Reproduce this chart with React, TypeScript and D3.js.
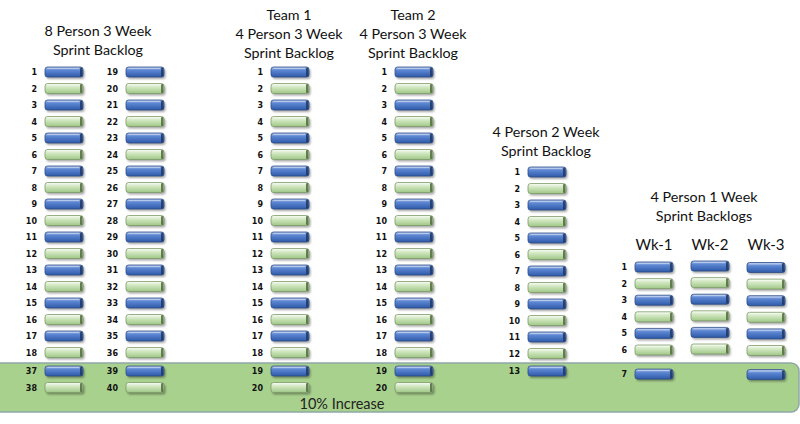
import React from "react";
import * as d3 from "d3";

// backlog items per column (numbers shown at left of each bar)
const eightA = [1, 2, 3, 4, 5, 6, 7, 8, 9, 10, 11, 12, 13, 14, 15, 16, 17, 18, 37, 38];
const eightB = [19, 20, 21, 22, 23, 24, 25, 26, 27, 28, 29, 30, 31, 32, 33, 34, 35, 36, 39, 40];
const team1 = [1, 2, 3, 4, 5, 6, 7, 8, 9, 10, 11, 12, 13, 14, 15, 16, 17, 18, 19, 20];
const team2 = [1, 2, 3, 4, 5, 6, 7, 8, 9, 10, 11, 12, 13, 14, 15, 16, 17, 18, 19, 20];
const twoWeek = [1, 2, 3, 4, 5, 6, 7, 8, 9, 10, 11, 12, 13];
const wk1 = [1, 2, 3, 4, 5, 6, 7];
const wk2 = [1, 2, 3, 4, 5, 6];
const wk3 = [1, 2, 3, 4, 5, 6, 7];

const titles = [
  { lines: ["8 Person 3 Week", "Sprint Backlog"], x: 98, y: 36 },
  { lines: ["Team 1", "4 Person 3 Week", "Sprint Backlog"], x: 289, y: 20 },
  { lines: ["Team 2", "4 Person 3 Week", "Sprint Backlog"], x: 413, y: 20 },
  { lines: ["4 Person 2 Week", "Sprint Backlog"], x: 546, y: 137 },
  { lines: ["4 Person 1 Week", "Sprint Backlogs"], x: 704, y: 202 },
];
const weekLabels = ["Wk-1", "Wk-2", "Wk-3"];
const bandLabel = "10% Increase";

const W = 800, H = 424;
const barW = 38, barH = 10;

const columns = [
  { items: eightA, cx: 64, top: 72, step: 16.5, bandFrom: 18, gap: 2, labels: true },
  { items: eightB, cx: 145, top: 72, step: 16.5, bandFrom: 18, gap: 2, labels: true },
  { items: team1, cx: 290, top: 72, step: 16.5, bandFrom: 18, gap: 2, labels: true },
  { items: team2, cx: 414, top: 72, step: 16.5, bandFrom: 18, gap: 2, labels: true },
  { items: twoWeek, cx: 547, top: 172, step: 16.5, bandFrom: 12, gap: 1, labels: true },
  { items: wk1, cx: 654, top: 267, step: 16.6, bandFrom: 6, gap: 7.5, labels: true },
  { items: wk2, cx: 710, top: 266, step: 16.6, bandFrom: 6, gap: 7.5, labels: false },
  { items: wk3, cx: 766, top: 267.5, step: 16.6, bandFrom: 6, gap: 7.5, labels: false },
];

const weekX = d3.scalePoint<string>().domain(weekLabels).range([654, 766]);
const font = "Lato, 'Open Sans', sans-serif";

const Bar = ({ x, y, odd }: { x: number; y: number; odd: boolean }) => {
  const id = odd ? "blue" : "green";
  return (
    <g transform={`translate(${x},${y})`}>
      <rect x={1.5} y={2} width={barW} height={barH} rx={2.5} fill="#000" opacity={0.35} filter="url(#shadow)" />
      <rect width={barW} height={barH} rx={2.5} fill={`url(#${id})`} stroke={odd ? "#2c4c86" : "#7e9a6a"} strokeWidth={0.8} />
      <rect x={barW - 3} y={0.6} width={2.4} height={barH - 1.2} rx={1} fill={odd ? "#1f3764" : "#4f6a3c"} opacity={0.85} />
      <line x1={2.5} x2={barW - 4} y1={1.4} y2={1.4} stroke="#fff" strokeOpacity={0.55} strokeWidth={0.8} />
    </g>
  );
};

export default function App() {
  return (
    <svg width={W} height={H} style={{ position: "fixed", left: 0, top: 0, background: "#fff" }}>
      <defs>
        <linearGradient id="blue" x1="0" y1="0" x2="0" y2="1">
          <stop offset="0" stopColor="#a9c0ea" />
          <stop offset="0.35" stopColor="#5b85d1" />
          <stop offset="1" stopColor="#2f5aa8" />
        </linearGradient>
        <linearGradient id="green" x1="0" y1="0" x2="0" y2="1">
          <stop offset="0" stopColor="#f2f9ec" />
          <stop offset="0.4" stopColor="#cfe6bf" />
          <stop offset="1" stopColor="#9fc786" />
        </linearGradient>
        <filter id="shadow" x="-20%" y="-50%" width="140%" height="200%">
          <feGaussianBlur stdDeviation="1" />
        </filter>
      </defs>

      <rect x={-10} y={363} width={809} height={49} rx={8} fill="#a9d18e" stroke="#8fa8a8" strokeWidth={1.5} />
      <text x={342} y={409} textAnchor="middle" fontFamily={font} fontSize={14.5} fill="#222">{bandLabel}</text>

      {titles.map((t, i) => (
        <text key={i} x={t.x} y={t.y} textAnchor="middle" fontFamily={font} fontSize={14.3} fill="#111">
          {t.lines.map((l, j) => (
            <tspan key={j} x={t.x} dy={j === 0 ? 0 : 19}>{l}</tspan>
          ))}
        </text>
      ))}

      {weekLabels.map((w) => (
        <text key={w} x={weekX(w)} y={250} textAnchor="middle" fontFamily={font} fontSize={15} fill="#111">{w}</text>
      ))}

      {columns.map((c, ci) => {
        const y = (i: number) => c.top + i * c.step + (i >= c.bandFrom ? c.gap : 0);
        return (
          <g key={ci}>
            {c.items.map((n, i) => (
              <g key={i}>
                {c.labels && (
                  <text x={c.cx - barW / 2 - 8} y={y(i) + 3} textAnchor="end" fontFamily="'DejaVu Sans', sans-serif" fontWeight={700} fontSize={8} fill="#111">{n}</text>
                )}
                <Bar x={c.cx - barW / 2} y={y(i) - barH / 2} odd={n % 2 === 1} />
              </g>
            ))}
          </g>
        );
      })}
    </svg>
  );
}
